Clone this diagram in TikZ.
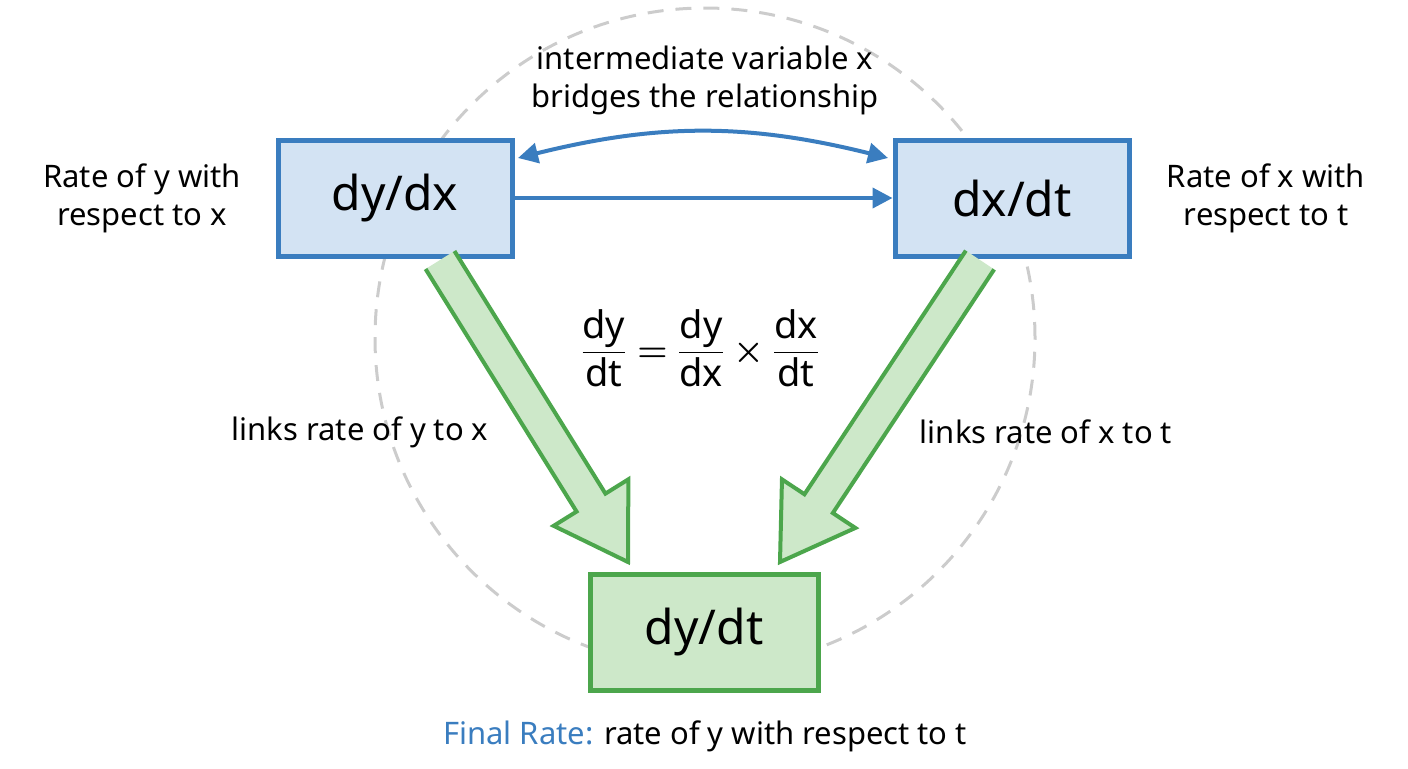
\documentclass[tikz,border=0pt]{standalone}
\usepackage{fontspec}
\setmainfont{Noto Sans}
\usepackage{amsmath}
\usetikzlibrary{calc,arrows.meta}
\definecolor{boxblue}{HTML}{3A7DBF}
\definecolor{fillblue}{HTML}{D3E3F3}
\definecolor{boxgreen}{HTML}{4CA64C}
\definecolor{fillgreen}{HTML}{CDE8C9}
\definecolor{ringgray}{HTML}{CCCCCC}
\tikzset{
  ratebox/.style={draw=boxblue, fill=fillblue, line width=2.5pt, minimum width=117pt, minimum height=58pt, font=\fontsize{24}{28}\selectfont\bfseries},
  finalbox/.style={ratebox, draw=boxgreen, fill=fillgreen, minimum width=114pt},
  note/.style={font=\fontsize{15.5}{19}\selectfont, align=center}
}
\newcommand{\fatarrow}[2]{%
  \coordinate (h) at ($(#2)!35pt!(#1)$);
  \fill[fillgreen] ($(#1)!8.5pt!90:(#2)$) -- ($(h)!8.5pt!-90:(#1)$) -- ($(h)!22pt!-90:(#1)$) -- (#2)
     -- ($(h)!22pt!90:(#1)$) -- ($(h)!8.5pt!90:(#1)$) -- ($(#1)!8.5pt!-90:(#2)$) -- cycle;
  \draw[boxgreen, line width=2pt, line join=miter] ($(#1)!8.5pt!90:(#2)$) -- ($(h)!8.5pt!-90:(#1)$) -- ($(h)!22pt!-90:(#1)$) -- (#2)
     -- ($(h)!22pt!90:(#1)$) -- ($(h)!8.5pt!90:(#1)$) -- ($(#1)!8.5pt!-90:(#2)$);
}
\begin{document}
\begin{tikzpicture}[x=0.5pt, y=-0.5pt]
  \useasboundingbox (0,0) rectangle (1408,768);
  % ring
  \draw[ringgray, line width=1.5pt, dash pattern=on 8pt off 6pt] (705,338) circle (165pt);
  % boxes
  \node[ratebox] (dydx) at (395,198) {dy/dx};
  \node[ratebox] (dxdt) at (1012,198) {dx/dt};
  \node[finalbox] (dydt) at (704,632) {dy/dt};
  % connectors between top boxes
  \draw[boxblue, line width=2pt, -{Triangle[length=10pt,width=10pt]}] (dydx.east) -- (dxdt.west);
  \coordinate (cl) at (518,158);
  \coordinate (cr) at (888,158);
  \draw[boxblue, line width=2pt, {Triangle[length=10pt,width=10pt]}-{Triangle[length=10pt,width=10pt]}] (cl) to[bend left=14] (cr);
  % big arrows
  \coordinate (la) at (440,260);
  \coordinate (lb) at (628,562);
  \coordinate (ra) at (980,260);
  \coordinate (rb) at (780,562);
  \fatarrow{la}{lb}
  \fatarrow{ra}{rb}
  % texts
  \node[note] (top) at (705,80) {intermediate variable x\\bridges the relationship};
  \node[note] (ly) at (142,198) {Rate of y with\\respect to x};
  \node[note] (rx) at (1266,198) {Rate of x with\\respect to t};
  \node[note] (ll) at (360,432) {links rate of y to x};
  \node[note] (lr) at (1046,432) {links rate of x to t};
  \node[font=\fontsize{19}{22}\selectfont\bfseries] (eq) at (700,348)
    {$\dfrac{\textbf{dy}}{\textbf{dt}}\boldsymbol{=}\dfrac{\textbf{dy}}{\textbf{dx}}\boldsymbol{\times}\dfrac{\textbf{dx}}{\textbf{dt}}$};
  \node[note] (fr) at (705,736) {\textcolor{boxblue}{\bfseries Final Rate:} rate of y with respect to t};
\end{tikzpicture}
\end{document}
